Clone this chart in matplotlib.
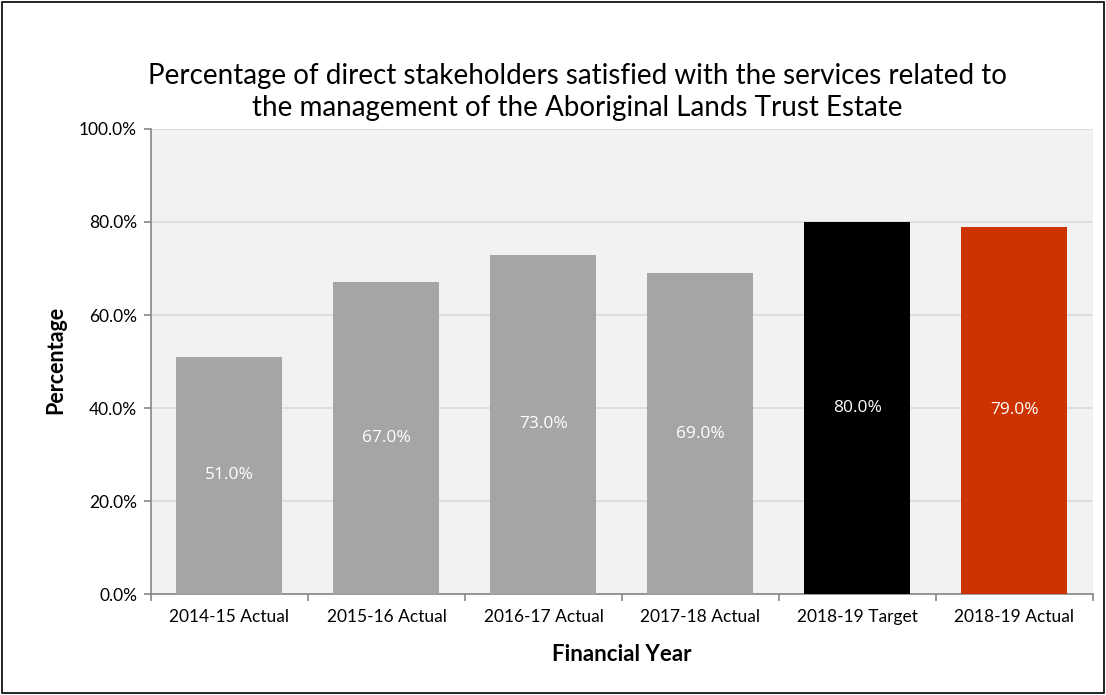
import matplotlib
matplotlib.use('Agg')
import matplotlib.pyplot as plt
from matplotlib.patches import Rectangle
from matplotlib.ticker import FuncFormatter, FixedLocator

# ===== DATA =====
years = ['2014-15 Actual', '2015-16 Actual', '2016-17 Actual',
         '2017-18 Actual', '2018-19 Target', '2018-19 Actual']
values = [51.0, 67.0, 73.0, 69.0, 80.0, 79.0]
bar_colors = ['#A5A5A5', '#A5A5A5', '#A5A5A5', '#A5A5A5', '#000000', '#CC3300']

TITLE = ('Percentage of direct stakeholders satisfied with the services related to\n'
         'the management of the Aboriginal Lands Trust Estate')

# ===== FIGURE =====
fig = plt.figure(figsize=(11.06, 6.95), dpi=100)
fig.patches.append(Rectangle((0.002, 0.003), 0.996, 0.994, transform=fig.transFigure,
                             fill=False, edgecolor='#000000', linewidth=1.2))

ax = fig.add_axes([0.1365, 0.1453, 0.8517, 0.6691])
ax.set_facecolor('#F2F2F2')

x = range(len(years))
bars = ax.bar(x, values, width=0.675, color=bar_colors, zorder=3)

# value labels sit at half the bar height
for b, v in zip(bars, values):
    ax.text(b.get_x() + b.get_width() / 2, v / 2, f'{v:.1f}%',
            ha='center', va='center', color='white', fontsize=12.5,
            family='Open Sans', zorder=4)

ax.set_xlim(-0.5, len(years) - 0.5)
ax.set_ylim(0, 100)
ax.set_yticks([0, 20, 40, 60, 80, 100])
ax.yaxis.set_major_formatter(FuncFormatter(lambda v, p: f'{v:.1f}%'))
ax.grid(axis='y', color='#D9D9D9', linewidth=1.2, zorder=0)

ax.set_xticks(list(x))
ax.set_xticklabels(years, family='Lato', fontsize=12.5)
ax.tick_params(axis='x', length=0, pad=11)
ax.xaxis.set_minor_locator(FixedLocator([i - 0.5 for i in range(len(years) + 1)]))
ax.tick_params(axis='x', which='minor', length=5, color='#868686', width=1.2)
ax.tick_params(axis='y', length=5, color='#868686', width=1.2, pad=5)
for lbl in ax.get_yticklabels():
    lbl.set_family('Lato')
    lbl.set_fontsize(12.5)

for side in ['top', 'right']:
    ax.spines[side].set_visible(False)
for side in ['left', 'bottom']:
    ax.spines[side].set_color('#868686')
    ax.spines[side].set_linewidth(1.2)

fig.text(0.05, 0.482, 'Percentage', rotation=90, ha='center', va='center',
         fontsize=15.5, fontweight='bold', family='Lato')
fig.text(0.5624, 0.058, 'Financial Year', ha='center', va='center',
         fontsize=16, fontweight='bold', family='Lato')
fig.text(0.5217, 0.868, TITLE, ha='center', va='center', fontsize=20,
         family='Lato', linespacing=1.3)

fig.savefig('out.png', dpi=100)
